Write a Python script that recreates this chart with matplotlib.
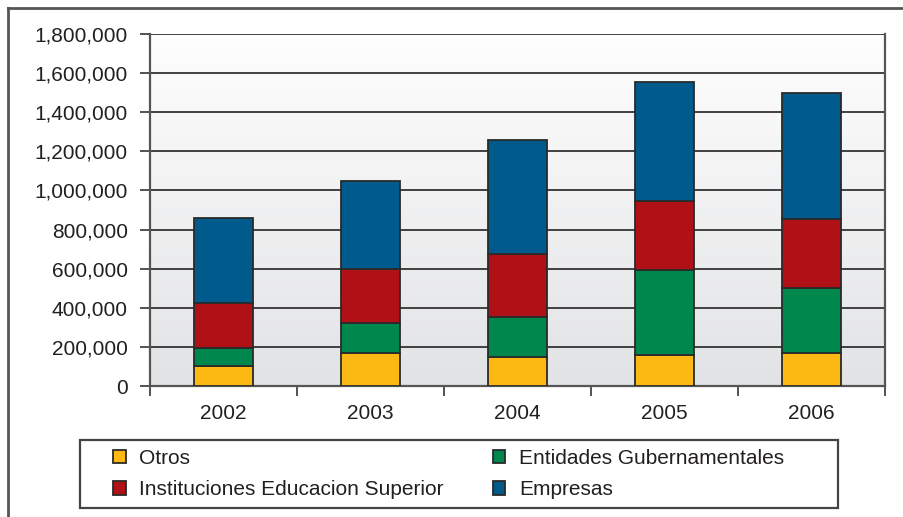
import numpy as np
import matplotlib
matplotlib.use("Agg")
import matplotlib.pyplot as plt
from matplotlib.patches import Rectangle
from matplotlib.lines import Line2D
from matplotlib.ticker import FuncFormatter

plt.rcParams['font.family'] = ['Liberation Sans', 'DejaVu Sans']

years = ['2002', '2003', '2004', '2005', '2006']
otros = [102000, 170000, 147000, 160000, 170000]
gobierno = [92000, 151000, 207000, 433000, 331000]
ies = [229000, 276000, 321000, 355000, 355000]
empresas = [436000, 451000, 583000, 607000, 641000]

series = [
    ('Otros', otros, '#fdb913'),
    ('Entidades Gubernamentales', gobierno, '#00874e'),
    ('Instituciones Educacion Superior', ies, '#b01117'),
    ('Empresas', empresas, '#005a8b'),
]

W, H = 904, 517
fig = plt.figure(figsize=(W / 100, H / 100), dpi=100)
ax = fig.add_axes([150 / W, 1 - 386 / H, 735 / W, 352 / H])

# gradient background of the plot area (light on top, grey at bottom)
grad = np.linspace(0, 1, 256).reshape(-1, 1)
cmap = matplotlib.colors.LinearSegmentedColormap.from_list('bg', ['#fefefe', '#e2e3e5'])
ax.imshow(grad, cmap=cmap, extent=[0, 1, 0, 1], transform=ax.transAxes,
          aspect='auto', zorder=0, interpolation='bicubic')

x = np.arange(len(years))
bottom = np.zeros(len(years))
handles = {}
for name, vals, col in series:
    b = ax.bar(x, vals, 0.4, bottom=bottom, color=col, edgecolor='#2a2a2a',
               linewidth=1.3, zorder=3)
    handles[name] = b
    bottom += np.array(vals)

ax.set_xlim(-0.5, len(years) - 0.5)
ax.set_ylim(0, 1800000)
ax.set_yticks(np.arange(0, 1800001, 200000))
ax.yaxis.set_major_formatter(FuncFormatter(lambda v, p: f'{int(v):,}'))
ax.grid(axis='y', color='#333333', linewidth=1.3, zorder=1)
ax.set_axisbelow(True)

ax.set_xticks(x)
ax.set_xticklabels(years)
ax.set_xticks(np.arange(-0.5, len(years)), minor=True)
ax.tick_params(axis='x', which='major', length=0, pad=13, labelsize=15, colors='#231f20')
ax.tick_params(axis='x', which='minor', length=7, width=1.3, color='#444444')
ax.tick_params(axis='y', length=7, width=1.3, color='#444444', pad=9,
               labelsize=15, labelcolor='#231f20')

for s in ['left', 'bottom', 'right']:
    ax.spines[s].set_color('#555555')
    ax.spines[s].set_linewidth(1.6)
ax.spines['top'].set_visible(False)

# legend with separate frame
fig.patches.append(Rectangle((80 / W, 1 - 508 / H), 758 / W, 68 / H,
                             transform=fig.transFigure, fill=False,
                             edgecolor='#444444', linewidth=1.6))
order = ['Otros', 'Instituciones Educacion Superior', 'Entidades Gubernamentales', 'Empresas']
leg = fig.legend([handles[n] for n in order], order, ncol=2,
                 loc='center left', bbox_to_anchor=(103 / W, 1 - 474 / H),
                 frameon=False, fontsize=15, handlelength=0.6, handleheight=0.6,
                 handletextpad=0.65, labelspacing=0.6, columnspacing=2.35,
                 borderpad=0)
for t in leg.get_texts():
    t.set_color('#231f20')

# outer border (left and top only)
fig.add_artist(Line2D([8 / W, 8 / W], [0, 1 - 8 / H], transform=fig.transFigure,
                      color='#555555', linewidth=2))
fig.add_artist(Line2D([8 / W, 1], [1 - 8 / H, 1 - 8 / H], transform=fig.transFigure,
                      color='#555555', linewidth=2))

fig.savefig('out.png', dpi=100)
